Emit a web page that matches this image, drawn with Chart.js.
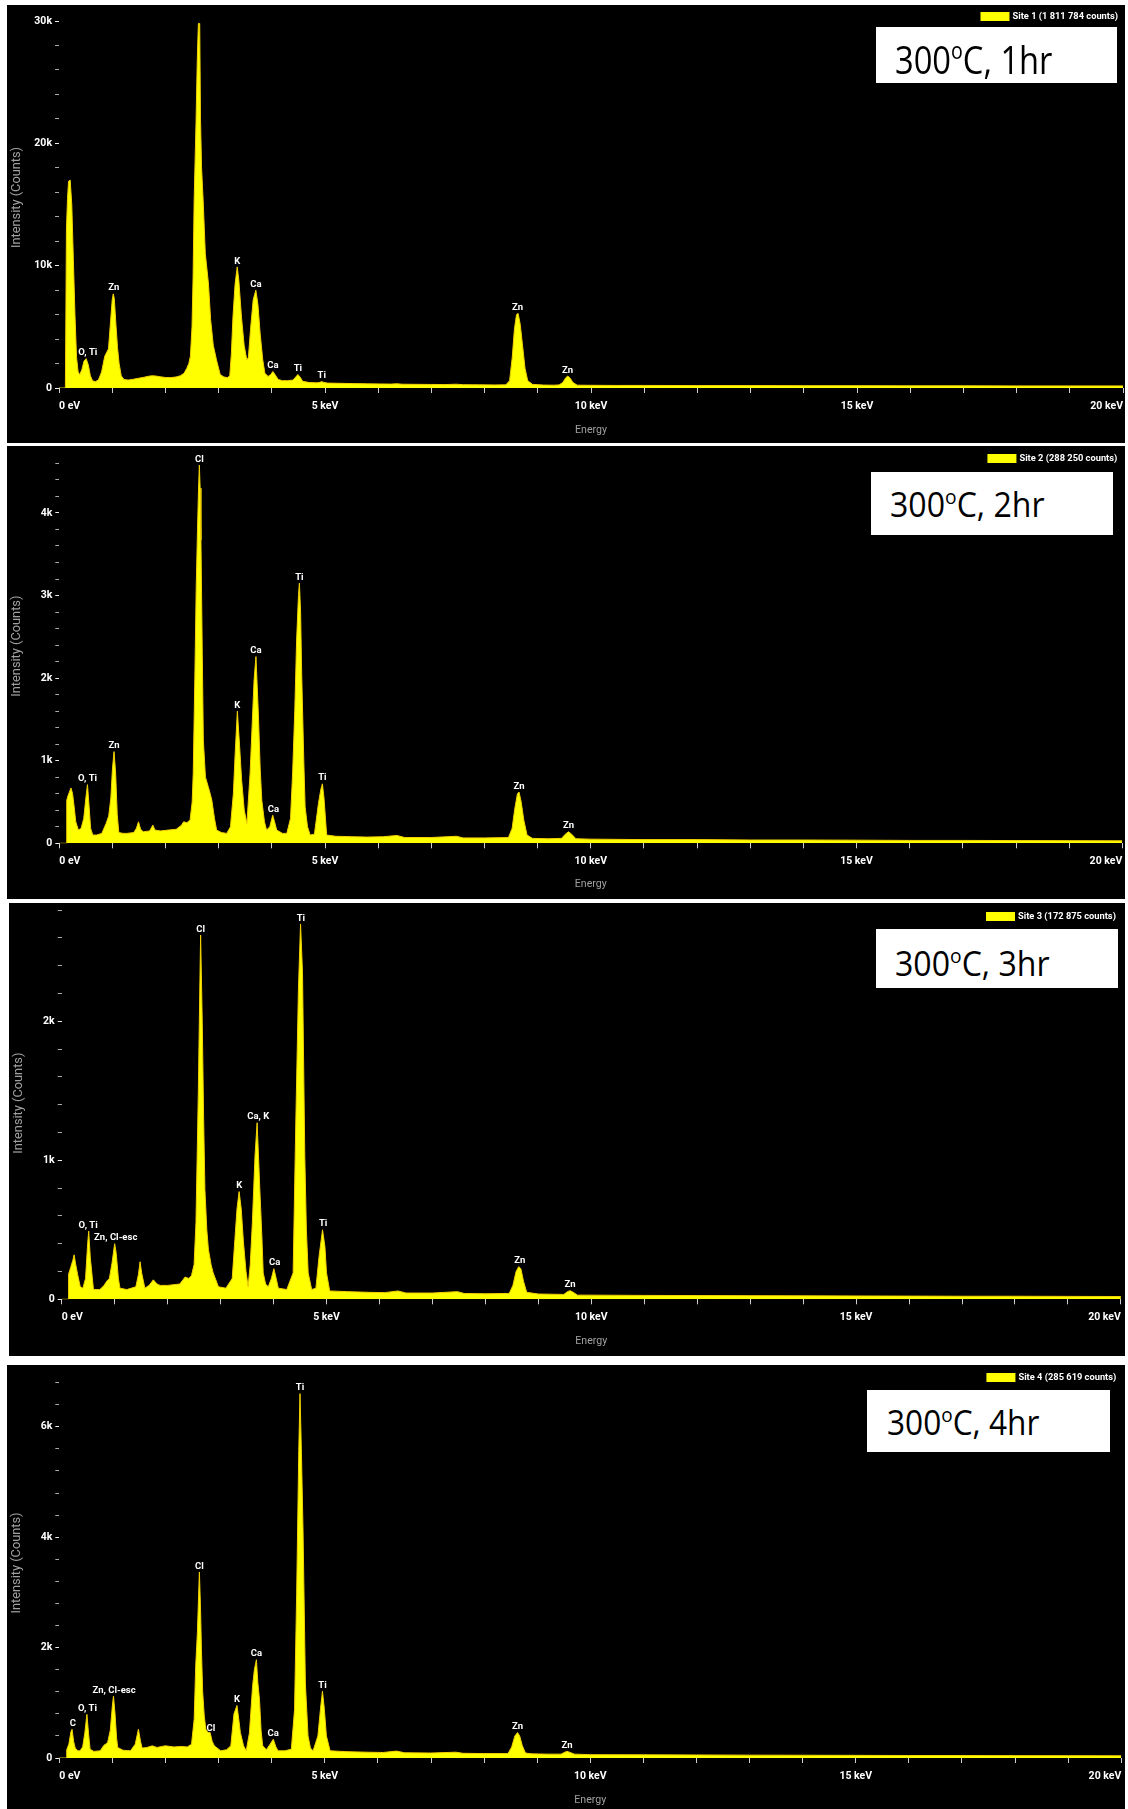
<!DOCTYPE html>
<html>
<head>
<meta charset="utf-8">
<title>EDS spectra 300ºC</title>
<script src="https://cdn.jsdelivr.net/npm/chart.js@4.4.0/dist/chart.umd.min.js"></script>
<style>
  html, body { margin: 0; padding: 0; background: #fff; }
  body { width: 1128px; height: 1809px; position: relative; overflow: hidden; }
  .panel { position: absolute; background: #000; }
  .panel canvas { display: block; }
  .tag { position: absolute; background: #fff; }
  .tag span { position: absolute; font-family: 'Open Sans', sans-serif; color: #000;
              line-height: 1; white-space: nowrap; transform-origin: 0 0; }
  .tag sup { font-size: 0.6em; vertical-align: 0.65em; line-height: 0; }
</style>
</head>
<body>

<div class="panel" style="left:7px;top:5px;width:1118px;height:438px"><canvas id="c1"></canvas></div>
<div class="panel" style="left:7px;top:446px;width:1118px;height:453px"><canvas id="c2"></canvas></div>
<div class="panel" style="left:9px;top:903px;width:1116px;height:453px"><canvas id="c3"></canvas></div>
<div class="panel" style="left:7px;top:1365px;width:1118px;height:444px"><canvas id="c4"></canvas></div>

<div class="tag" style="left:876px;top:27px;width:241px;height:56px">
  <span style="left:19px;top:13.4px;font-size:38px;transform:scaleX(0.86)">300<sup>o</sup>C, 1hr</span></div>
<div class="tag" style="left:871px;top:472px;width:242px;height:63px">
  <span style="left:19px;top:14.7px;font-size:34.5px;transform:scaleX(0.93)">300<sup>o</sup>C, 2hr</span></div>
<div class="tag" style="left:876px;top:929px;width:242px;height:59px">
  <span style="left:19px;top:16.7px;font-size:34.5px;transform:scaleX(0.93)">300<sup>o</sup>C, 3hr</span></div>
<div class="tag" style="left:867px;top:1390px;width:243px;height:62px">
  <span style="left:20px;top:15.1px;font-size:34px;transform:scaleX(0.93)">300<sup>o</sup>C, 4hr</span></div>

<script>
// EDS spectra, energy in keV, intensity in counts
// [energy, counts]

var site1 = [[0,0],[0.12,0],[0.14,13000],[0.16,15500],[0.18,16900],[0.21,17000],[0.24,15000],[0.27,10500],
  [0.30,6000],[0.33,2500],[0.36,1300],[0.39,1100],[0.43,1500],[0.47,2200],[0.51,2400],[0.55,1900],[0.59,1000],
  [0.63,600],[0.68,520],[0.74,650],[0.80,1300],[0.86,2600],[0.93,3200],[0.97,5500],[1.00,7200],[1.02,7700],
  [1.04,7300],[1.07,5200],[1.10,3300],[1.13,2000],[1.17,1000],[1.22,700],[1.30,650],[1.40,720],[1.50,800],
  [1.60,880],[1.68,960],[1.75,1000],[1.82,980],[1.90,920],[2.00,860],[2.10,850],[2.20,900],[2.28,1000],
  [2.35,1200],[2.40,1600],[2.44,2000],[2.47,2600],[2.50,5000],[2.52,9000],[2.54,15300],[2.575,21600],
  [2.60,27000],[2.62,29800],[2.645,29800],[2.66,22000],[2.68,18000],[2.71,15300],[2.75,11000],[2.81,8500],
  [2.85,5600],[2.90,3500],[2.96,2300],[3.03,1100],[3.10,900],[3.17,850],[3.21,1000],[3.24,2800],[3.27,5800],
  [3.31,8500],[3.35,9900],[3.38,8800],[3.43,5800],[3.48,3500],[3.53,2300],[3.56,2500],[3.60,4800],[3.65,7200],
  [3.70,8000],[3.74,6800],[3.78,4500],[3.83,2300],[3.87,1200],[3.93,950],[3.98,1100],[4.02,1350],[4.06,1100],
  [4.12,700],[4.20,600],[4.30,600],[4.40,650],[4.45,900],[4.49,1100],[4.53,900],[4.58,550],[4.70,450],
  [4.85,420],[4.90,460],[4.94,520],[4.98,450],[5.05,400],[5.30,380],[5.55,360],[5.80,340],[6.05,330],
  [6.25,320],[6.35,350],[6.45,310],[6.70,300],[7.00,290],[7.25,280],[7.47,310],[7.60,270],[7.90,260],
  [8.20,250],[8.40,260],[8.47,600],[8.52,2500],[8.56,4800],[8.60,6000],[8.63,6100],[8.67,5200],[8.71,3600],
  [8.76,1600],[8.81,600],[8.90,300],[9.10,240],[9.30,230],[9.40,250],[9.47,450],[9.52,800],[9.56,980],
  [9.60,850],[9.66,450],[9.74,230],[10.0,220],[10.5,210],[11.0,210],[12.0,200],[13.0,200],[14.0,190],
  [15.0,190],[16.0,180],[17.0,180],[18.0,170],[19.0,170],[20.0,170]];

var site2 = [[0,0],[0.13,0],[0.14,520],[0.16,570],[0.19,620],[0.22,670],[0.25,600],[0.28,440],[0.31,260],
  [0.36,160],[0.41,180],[0.46,300],[0.50,550],[0.53,710],[0.56,450],[0.59,180],[0.63,100],[0.70,100],
  [0.80,120],[0.88,240],[0.93,330],[0.97,550],[1.00,900],[1.03,1110],[1.06,850],[1.09,350],[1.12,130],
  [1.20,120],[1.27,120],[1.40,130],[1.45,180],[1.49,260],[1.53,170],[1.58,140],[1.70,150],[1.76,220],
  [1.80,160],[1.90,150],[2.05,160],[2.20,170],[2.30,220],[2.34,260],[2.40,250],[2.46,280],[2.50,500],
  [2.52,850],[2.55,2000],[2.575,3070],[2.60,3800],[2.62,4300],[2.635,4580],[2.65,4300],[2.665,3670],
  [2.69,2300],[2.71,1250],[2.75,800],[2.80,690],[2.84,600],[2.87,520],[2.92,300],[2.96,160],[3.05,130],
  [3.15,120],[3.22,200],[3.275,600],[3.31,1100],[3.35,1600],[3.39,1200],[3.43,770],[3.48,400],[3.53,240],
  [3.59,850],[3.62,1300],[3.665,1980],[3.70,2260],[3.745,1570],[3.78,900],[3.81,520],[3.86,260],[3.90,160],
  [3.96,200],[4.015,340],[4.05,260],[4.09,160],[4.20,120],[4.28,120],[4.35,300],[4.39,850],[4.43,1600],
  [4.465,2460],[4.50,3000],[4.517,3150],[4.54,2800],[4.56,2060],[4.60,1000],[4.625,440],[4.67,200],
  [4.72,100],[4.80,110],[4.875,480],[4.92,650],[4.95,720],[4.98,550],[5.03,100],[5.20,85],[5.50,80],
  [5.80,75],[6.10,80],[6.35,95],[6.50,70],[7.00,70],[7.47,85],[7.60,65],[8.00,65],[8.45,70],[8.52,180],
  [8.57,420],[8.62,600],[8.65,620],[8.69,500],[8.74,280],[8.80,100],[8.90,60],[9.20,55],[9.45,60],
  [9.52,110],[9.58,140],[9.64,110],[9.72,55],[10.0,50],[11.0,45],[12.0,45],[13.0,40],[14.0,40],[15.0,38],
  [16.0,35],[17.0,35],[18.0,33],[19.0,32],[20.0,30]];

var site3 = [[0,0],[0.12,0],[0.13,180],[0.17,230],[0.21,280],[0.235,320],[0.26,260],[0.30,180],[0.35,90],
  [0.40,80],[0.45,150],[0.49,400],[0.51,490],[0.54,300],[0.60,70],[0.72,70],[0.80,100],[0.85,130],
  [0.90,150],[0.95,260],[1.00,400],[1.03,330],[1.07,150],[1.10,80],[1.23,70],[1.40,90],[1.45,180],
  [1.48,270],[1.51,190],[1.57,80],[1.65,100],[1.73,140],[1.80,110],[1.86,100],[2.00,100],[2.23,110],
  [2.33,160],[2.40,150],[2.45,170],[2.50,250],[2.535,550],[2.58,1500],[2.61,2300],[2.623,2620],
  [2.654,1990],[2.68,1300],[2.704,790],[2.74,500],[2.77,360],[2.82,250],[2.86,190],[2.96,90],[3.10,80],
  [3.22,150],[3.27,430],[3.31,650],[3.35,775],[3.39,650],[3.43,420],[3.48,200],[3.52,90],[3.56,250],
  [3.60,550],[3.65,1030],[3.69,1270],[3.74,800],[3.78,450],[3.805,190],[3.85,110],[3.90,90],[3.96,150],
  [4.006,220],[4.05,150],[4.09,80],[4.25,70],[4.37,190],[4.42,1270],[4.47,2230],[4.51,2700],[4.547,2350],
  [4.59,1030],[4.62,500],[4.654,190],[4.72,70],[4.80,80],[4.86,310],[4.925,500],[4.97,380],[5.00,190],
  [5.06,60],[5.40,55],[5.80,50],[6.10,48],[6.35,60],[6.50,45],[7.00,45],[7.47,55],[7.60,42],[8.00,40],
  [8.45,42],[8.52,100],[8.58,200],[8.63,235],[8.67,220],[8.72,130],[8.78,50],[9.00,38],[9.48,35],[9.55,55],
  [9.60,62],[9.66,50],[9.74,30],[10.0,30],[11.0,28],[12.0,27],[13.0,26],[14.0,25],[15.0,24],[16.0,23],
  [17.0,22],[18.0,22],[19.0,21],[20.0,20]];

var site4 = [[0,0],[0.13,0],[0.14,150],[0.18,250],[0.22,480],[0.24,520],[0.27,300],[0.30,180],[0.35,130],
  [0.39,130],[0.44,200],[0.48,450],[0.52,790],[0.55,450],[0.58,160],[0.65,120],[0.77,130],[0.84,230],
  [0.87,250],[0.91,280],[0.96,500],[1.00,950],[1.02,1120],[1.05,800],[1.08,350],[1.10,190],[1.20,140],
  [1.34,130],[1.43,250],[1.49,520],[1.53,300],[1.56,180],[1.65,190],[1.75,220],[1.84,190],[1.93,210],
  [2.00,220],[2.16,200],[2.30,210],[2.41,200],[2.49,250],[2.54,700],[2.57,1700],[2.60,2260],[2.638,3370],
  [2.66,2700],[2.677,1960],[2.70,1200],[2.73,760],[2.76,520],[2.80,460],[2.84,460],[2.88,300],[2.92,220],
  [3.04,130],[3.15,150],[3.23,220],[3.29,800],[3.346,950],[3.38,700],[3.41,460],[3.47,220],[3.52,130],
  [3.58,450],[3.64,1300],[3.674,1600],[3.712,1780],[3.74,1350],[3.77,1060],[3.80,500],[3.83,220],[3.90,150],
  [3.97,250],[4.03,340],[4.08,200],[4.12,130],[4.25,130],[4.37,160],[4.43,880],[4.47,2980],[4.51,5570],
  [4.533,6600],[4.558,5600],[4.59,4130],[4.634,1360],[4.684,400],[4.73,180],[4.78,130],[4.87,400],
  [4.92,900],[4.956,1210],[4.99,900],[5.03,400],[5.10,130],[5.40,115],[5.80,105],[6.10,100],[6.35,125],
  [6.50,95],[7.00,90],[7.47,105],[7.60,85],[8.00,80],[8.45,80],[8.52,200],[8.58,400],[8.63,460],[8.67,400],
  [8.72,220],[8.78,90],[8.90,75],[9.20,70],[9.45,70],[9.52,105],[9.56,120],[9.61,105],[9.70,70],[10.0,60],
  [11.0,58],[12.0,55],[13.0,52],[14.0,50],[15.0,48],[16.0,45],[17.0,45],[18.0,43],[19.0,42],[20.0,40]];

// element markers: name, energy (keV), peak height (counts)
var names1 = ['O, Ti', 'Zn', 'K', 'Ca', 'Ca', 'Ti', 'Ti', 'Zn', 'Zn'];
var markE1 = [0.54, 1.03, 3.35, 3.70, 4.02, 4.49, 4.94, 8.62, 9.56];
var markC1 = [2400, 7700, 9900, 8000, 1350, 1100, 520, 6100, 980];

var names2 = ['O, Ti', 'Zn', 'Cl', 'K', 'Ca', 'Ca', 'Ti', 'Ti', 'Zn', 'Zn'];
var markE2 = [0.53, 1.03, 2.635, 3.35, 3.70, 4.03, 4.517, 4.95, 8.65, 9.58];
var markC2 = [710, 1110, 4580, 1600, 2260, 340, 3150, 720, 620, 140];

var names3 = ['O, Ti', 'Zn, Cl-esc', 'Cl', 'K', 'Ca, K', 'Ca', 'Ti', 'Ti', 'Zn', 'Zn'];
var markE3 = [0.50, 1.02, 2.623, 3.352, 3.71, 4.02, 4.516, 4.937, 8.65, 9.60];
var markC3 = [490, 400, 2620, 775, 1270, 220, 2700, 500, 235, 62];

var names4 = ['C', 'O, Ti', 'Zn, Cl-esc', 'Cl', 'Cl', 'K', 'Ca', 'Ca', 'Ti', 'Ti', 'Zn', 'Zn'];
var markE4 = [0.253, 0.53, 1.03, 2.64, 2.853, 3.346, 3.712, 4.028, 4.533, 4.956, 8.63, 9.56];
var markC4 = [520, 790, 1120, 3370, 430, 950, 1780, 340, 6600, 1210, 460, 120];

var siteNames = ['Site 1 (1 811 784 counts)', 'Site 2 (288 250 counts)',
                 'Site 3 (172 875 counts)', 'Site 4 (285 619 counts)'];

// labelled y ticks per panel
var yLabelled1 = [0, 10000, 20000, 30000];
var yLabelled2 = [0, 1000, 2000, 3000, 4000];
var yLabelled3 = [0, 1000, 2000];
var yLabelled4 = [0, 2000, 4000, 6000];
var xLabelled = [0, 5, 10, 15, 20];

Chart.defaults.font.family = 'Roboto';
Chart.defaults.color = '#fff';

// panel layout (canvas px)
var panels = [
  { id: 'c1', w: 1118, h: 438, left: 52, right: 2, top: 2, axisH: 55, yMax: 31150, yStep: 2000, titleBottom: 6,
    spectrum: site1, names: names1, markE: markE1, markC: markC1, yLab: yLabelled1 },
  { id: 'c2', w: 1118, h: 453, left: 52.3, right: 2.7, top: 3, axisH: 55.7, yMax: 4774, yStep: 200, titleBottom: 8,
    spectrum: site2, names: names2, markE: markE2, markC: markC2, yLab: yLabelled2 },
  { id: 'c3', w: 1116, h: 453, left: 52.7, right: 4.1, top: 4, axisH: 56.7, yMax: 2822, yStep: 200, titleBottom: 8,
    spectrum: site3, names: names3, markE: markE3, markC: markC3, yLab: yLabelled3 },
  { id: 'c4', w: 1118, h: 444, left: 52.3, right: 3.7, top: 3, axisH: 51, yMax: 7065, yStep: 400, titleBottom: 2,
    spectrum: site4, names: names4, markE: markE4, markC: markC4, yLab: yLabelled4 }
];

function overlay(p) {
  return {
    id: 'overlay',
    afterDatasetsDraw: function (chart) {
      var ctx = chart.ctx, xs = chart.scales.x, ys = chart.scales.y, area = chart.chartArea;
      ctx.save();
      // peak labels
      ctx.font = 'bold 9.5px Roboto';
      ctx.fillStyle = '#fff';
      ctx.textAlign = 'center';
      ctx.textBaseline = 'bottom';
      p.names.forEach(function (n, i) {
        ctx.fillText(n, xs.getPixelForValue(p.markE[i]), ys.getPixelForValue(p.markC[i]) - 1);
      });
      // site legend, top right
      var ds = chart.data.datasets[0];
      ctx.font = 'bold 9.3px Roboto';
      ctx.textAlign = 'right';
      ctx.textBaseline = 'middle';
      var tx = area.right - 5, ty = area.top + 9.5;
      ctx.fillText(ds.label, tx, ty);
      var tw = ctx.measureText(ds.label).width;
      ctx.fillStyle = ds.backgroundColor;
      ctx.fillRect(tx - tw - 3 - 29, ty - 4.5, 29, 9);
      ctx.restore();
    }
  };
}

function isLabelled(list, v) {
  return list.some(function (t) { return Math.abs(t - v) < 1e-6; });
}

panels.forEach(function (p, k) {
  var cv = document.getElementById(p.id);
  cv.width = p.w;
  cv.height = p.h;
  new Chart(cv, {
    type: 'line',
    data: {
      datasets: [{
        label: siteNames[k],
        data: p.spectrum.map(function (d) { return { x: d[0], y: d[1] }; }),
        borderColor: '#f2d000',
        backgroundColor: '#ffff00',
        borderWidth: 1,
        fill: 'origin',
        pointRadius: 0,
        tension: 0
      }]
    },
    options: {
      responsive: false,
      animation: false,
      devicePixelRatio: 1,
      layout: { padding: { left: 0, top: p.top, right: p.right, bottom: 0 } },
      plugins: { legend: { display: false }, tooltip: { enabled: false } },
      scales: {
        x: {
          type: 'linear', min: 0, max: 20,
          afterBuildTicks: function (s) {
            var t = [];
            for (var v = 0; v <= 20; v++) t.push({ value: v });
            s.ticks = t;
          },
          afterFit: function (s) { s.height = p.axisH; s.paddingLeft = 0; s.paddingRight = 0; },
          border: { display: false },
          grid: { drawOnChartArea: false, tickLength: 5, tickColor: '#cfcfcf' },
          ticks: {
            autoSkip: false, maxRotation: 0, align: 'inner', padding: 7,
            color: '#fff', font: { size: 10.5, weight: 'bold' },
            callback: function (v) {
              return isLabelled(xLabelled, v) ? (v === 0 ? '0 eV' : v + ' keV') : '';
            }
          },
          title: { display: true, text: 'Energy', color: '#a0a0a0', font: { size: 10.6 },
                   padding: { top: 0, bottom: p.titleBottom } }
        },
        y: {
          min: 0, max: p.yMax,
          afterBuildTicks: function (s) {
            var t = [];
            for (var v = 0; v <= p.yMax; v += p.yStep) t.push({ value: v });
            s.ticks = t;
          },
          afterFit: function (s) { s.width = p.left; s.paddingTop = 0; s.paddingBottom = 0; },
          border: { display: false },
          grid: {
            drawOnChartArea: false, tickLength: 4,
            tickColor: function (c) { return c.tick && isLabelled(p.yLab, c.tick.value) ? '#eee' : '#aaa'; }
          },
          ticks: {
            autoSkip: false, padding: 3,
            color: '#fff', font: { size: 10.5, weight: 'bold' },
            callback: function (v) {
              return isLabelled(p.yLab, v) ? (v === 0 ? '0' : (v / 1000) + 'k') : '';
            }
          },
          title: { display: true, text: 'Intensity (Counts)', color: '#a0a0a0', font: { size: 12.8 },
                   padding: { top: 2, bottom: 0 } }
        }
      }
    },
    plugins: [overlay(p)]
  });
});
</script>
</body>
</html>
